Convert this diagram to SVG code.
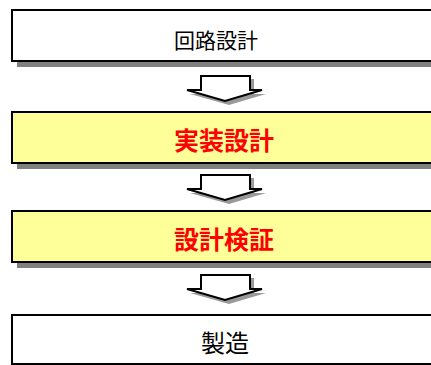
<svg xmlns="http://www.w3.org/2000/svg" width="431" height="365" viewBox="0 0 431 365">
<style>
.box{stroke:#000;stroke-width:2}
.plain{fill:#fff}
.hl{fill:#ffff99}
.shadow{fill:#808080}
.t{font-family:"Noto Sans CJK JP","Noto Sans CJK SC",sans-serif;text-anchor:middle}
.tn{font-size:21px;fill:#000}
.tb{font-size:25px;fill:#ff0000;font-weight:bold}
.arrow{fill:#fff;stroke:#000;stroke-width:2;stroke-linejoin:miter}
.ashadow{fill:#999}
</style>
<defs>
<g id="darrow">
<path class="ashadow" d="M205 79 H254 V94 H266 L229 105 L190 94 H205 Z"/>
<path class="arrow" d="M201 76 H250 V90 H262 L225 101 L187 90 H201 Z"/>
</g>
</defs>
<g id="node-circuit">
<rect class="shadow" x="17" y="61" width="420" height="6"/>
<rect class="box plain" x="12" y="10" width="430" height="51"/>
<text class="t tn" x="216" y="48">回路設計</text>
</g>
<g id="node-impl">
<rect class="shadow" x="17" y="163" width="420" height="6"/>
<rect class="box hl" x="12" y="112" width="430" height="51"/>
<text class="t tb" x="224" y="150">実装設計</text>
</g>
<g id="node-verify">
<rect class="shadow" x="17" y="262" width="420" height="6"/>
<rect class="box hl" x="12" y="211" width="430" height="51"/>
<text class="t tb" x="224" y="249">設計検証</text>
</g>
<g id="node-mfg">
<rect class="box plain" x="12" y="315" width="430" height="49"/>
<text class="t tn" x="225" y="352" style="font-size:24px">製造</text>
</g>
<g id="connectors">
<use href="#darrow"/>
<use href="#darrow" y="99"/>
<use href="#darrow" y="199"/>
</g>
</svg>
